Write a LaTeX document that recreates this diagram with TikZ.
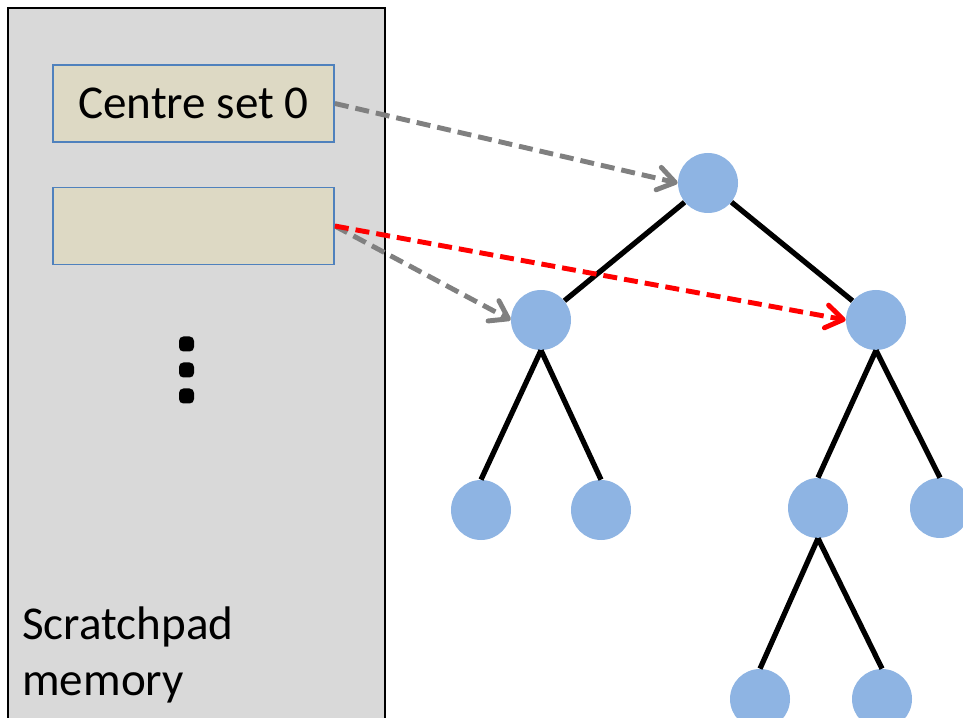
\documentclass[tikz,border=0pt]{standalone}
\usepackage{fontspec}
\setmainfont{Carlito}
\usetikzlibrary{arrows.meta, positioning}
\definecolor{memGray}{HTML}{D9D9D9}
\definecolor{setTan}{HTML}{DDD9C4}
\definecolor{setBlue}{HTML}{4F81BD}
\definecolor{treeBlue}{HTML}{8EB4E3}
\definecolor{ptrGray}{HTML}{808080}
\definecolor{ptrRed}{HTML}{FF0000}
\tikzset{
  boxMem/.style={draw=black, fill=memGray, line width=1.1pt},
  boxSet/.style={rectangle, draw=setBlue, fill=setTan, line width=1pt,
                 minimum width=5.62cm, minimum height=1.54cm, inner sep=0pt},
  nodeTree/.style={circle, fill=treeBlue, minimum size=1.2cm, inner sep=0pt},
  edgeTree/.style={black, line width=3pt},
  arrowG/.style={-{Straight Barb[length=3.4mm, width=4.6mm, round]}, ptrGray,
                 line width=2.8pt, dash pattern=on 0.28cm off 0.14cm},
  arrowR/.style={-{Straight Barb[length=3.4mm, width=4.6mm, round]}, ptrRed,
                 line width=2.8pt, dash pattern=on 0.28cm off 0.14cm},
}
\begin{document}
\begin{tikzpicture}[font=\fontsize{26.8}{31.3}\selectfont]
    \useasboundingbox (0,0) rectangle (19.26,-14.36);

    % scratchpad memory
    \draw[boxMem] (0.16,-0.16) rectangle (7.70,-15);
    \node[boxSet] (set0) at (3.87,-2.07) {Centre set 0};
    \node[boxSet] (set1) at (3.87,-4.52) {};
    \foreach \y in {-6.88,-7.40,-7.92}
      \fill[rounded corners=2.5pt] (3.58,\y+0.15) rectangle (3.88,\y-0.15);
    \node[anchor=base west, align=left, inner sep=0pt] (mem) at (0.44,-13.9)
         {Scratchpad\\memory};

    % tree
    \node[nodeTree] (root) at (14.16,-3.66) {};
    \node[nodeTree] (l)    at (10.82,-6.40) {};
    \node[nodeTree] (r)    at (17.52,-6.40) {};
    \node[nodeTree] (ll)   at (9.62,-10.20) {};
    \node[nodeTree] (lr)   at (12.02,-10.20) {};
    \node[nodeTree] (rl)   at (16.36,-10.16) {};
    \node[nodeTree] (rr)   at (18.80,-10.16) {};
    \node[nodeTree] (rll)  at (15.20,-13.98) {};
    \node[nodeTree] (rlr)  at (17.64,-13.98) {};

    \draw[edgeTree] (root) -- (l);
    \draw[edgeTree] (root) -- (r);
    \draw[edgeTree] (l.south) -- (ll.north);
    \draw[edgeTree] (l.south) -- (lr.north);
    \draw[edgeTree] (r.south) -- (rl.north);
    \draw[edgeTree] (r.south) -- (rr.north);
    \draw[edgeTree] (rl.south) -- (rll.north);
    \draw[edgeTree] (rl.south) -- (rlr.north);

    % pointers into the tree
    \draw[arrowG] (set0.east) -- (root.west);
    \draw[arrowG] (set1.east) -- (l.west);
    \draw[arrowR] (set1.east) -- (r.west);
\end{tikzpicture}
\end{document}
